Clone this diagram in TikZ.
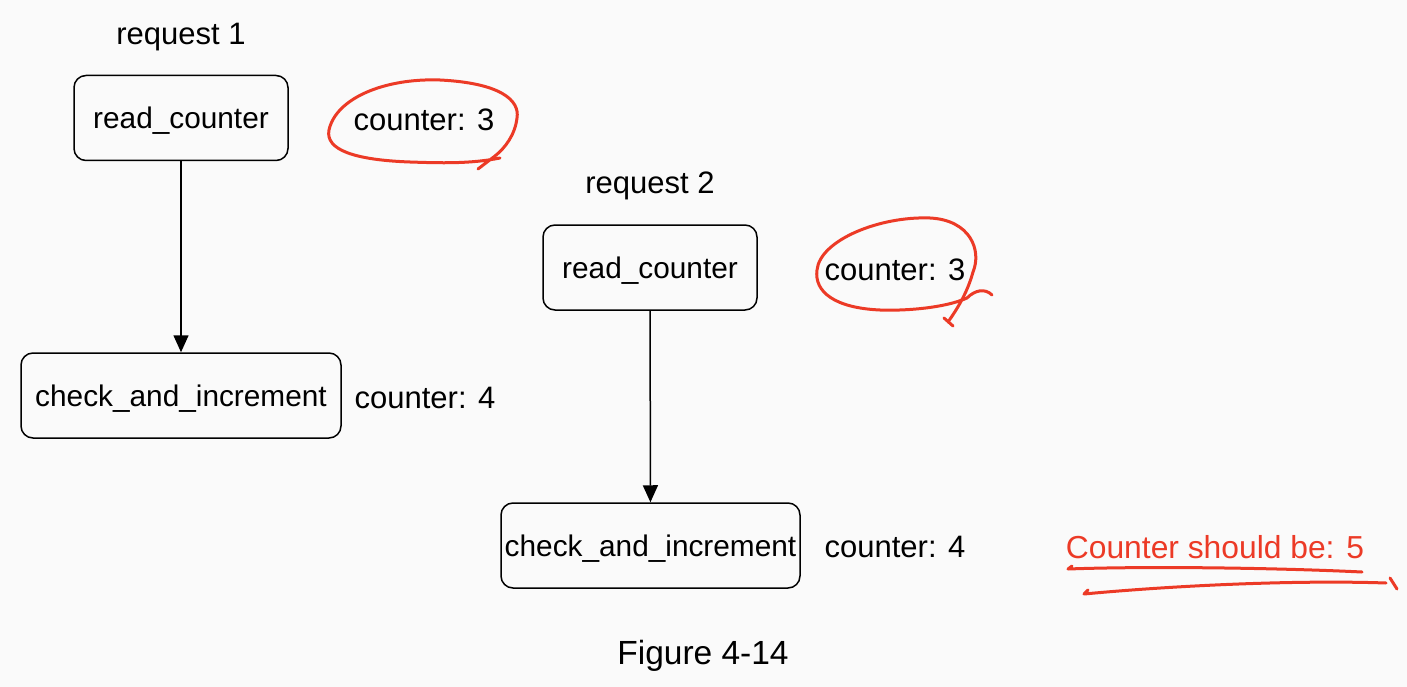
\documentclass[tikz,border=0pt]{standalone}
\usepackage{fontspec}
\setmainfont{Liberation Sans}
\usetikzlibrary{arrows.meta}
\definecolor{pagebg}{RGB}{250,250,250}
\definecolor{markred}{RGB}{236,58,38}
\tikzset{
  stepbox/.style={draw=black, line width=1.5pt, rounded corners=12pt, fill=pagebg,
    inner sep=0pt, minimum height=85pt, text depth=0pt, font=\fontsize{29.8}{35}\selectfont},
  lbl/.style={inner sep=0pt, text depth=0pt, font=\fontsize{31}{36}\selectfont},
  flow/.style={line width=1.5pt, -{Triangle[length=17pt,width=15pt]}},
  ink/.style={draw=markred, line width=3pt, line cap=round, line join=round}
}
\begin{document}
\begin{tikzpicture}[x=1pt,y=-1pt]
\fill[pagebg] (0,0) rectangle (1407,687);
\useasboundingbox (0,0) rectangle (1407,687);

% request 1
\node[lbl] (req1) at (181,34) {request 1};
\node[stepbox, minimum width=214pt] (read1) at (181,118) {read\_counter};
\node[stepbox, minimum width=320pt] (check1) at (181,395.5) {check\_and\_increment};
\node[lbl] (c13) at (424,120) {counter: 3};
\node[lbl] (c14) at (425,398) {counter: 4};
\draw[flow] (read1) -- (check1);

% request 2
\node[lbl] (req2) at (650,183) {request 2};
\node[stepbox, minimum width=214pt] (read2) at (650,267.5) {read\_counter};
\node[stepbox, minimum width=299pt] (check2) at (650.5,545.5) {check\_and\_increment};
\node[lbl] (c23) at (895,270) {counter: 3};
\node[lbl] (c24) at (895,547) {counter: 4};
\draw[flow] (read2) -- (check2);

% annotation
\node[lbl, text=markred, font=\fontsize{31.8}{37}\selectfont] (should) at (1215,547) {Counter should be: 5};
\node[lbl, font=\fontsize{33.5}{39}\selectfont] (fig) at (703,652) {Figure 4-14};

% hand-drawn circle round the first counter value
\draw[ink] (500,158) .. controls (470,164) and (440,163) .. (410,162)
  .. controls (355,160) and (325,150) .. (329,130)
  .. controls (336,98) and (385,78) .. (440,80)
  .. controls (500,83) and (520,100) .. (517,118)
  .. controls (515,135) and (505,148) .. (495,156)
  -- (478,169);

% hand-drawn circle round the second counter value
\draw[ink] (992,295) .. controls (985,288) and (975,290) .. (967,298)
  .. controls (945,308) and (905,311) .. (880,310)
  .. controls (835,308) and (814,292) .. (817,270)
  .. controls (820,240) and (880,216) .. (930,218)
  .. controls (970,220) and (982,250) .. (973,272)
  .. controls (968,290) and (960,305) .. (948,322);
\draw[ink] (944,318) -- (953,326);

% underlines below the expected value
\draw[ink] (1072,566) -- (1068,569) .. controls (1150,566) and (1280,568) .. (1362,572);
\draw[ink] (1088,590) -- (1084,594) .. controls (1180,585) and (1300,580) .. (1386,583);
\draw[ink] (1390,578) -- (1397,589);
\end{tikzpicture}
\end{document}
